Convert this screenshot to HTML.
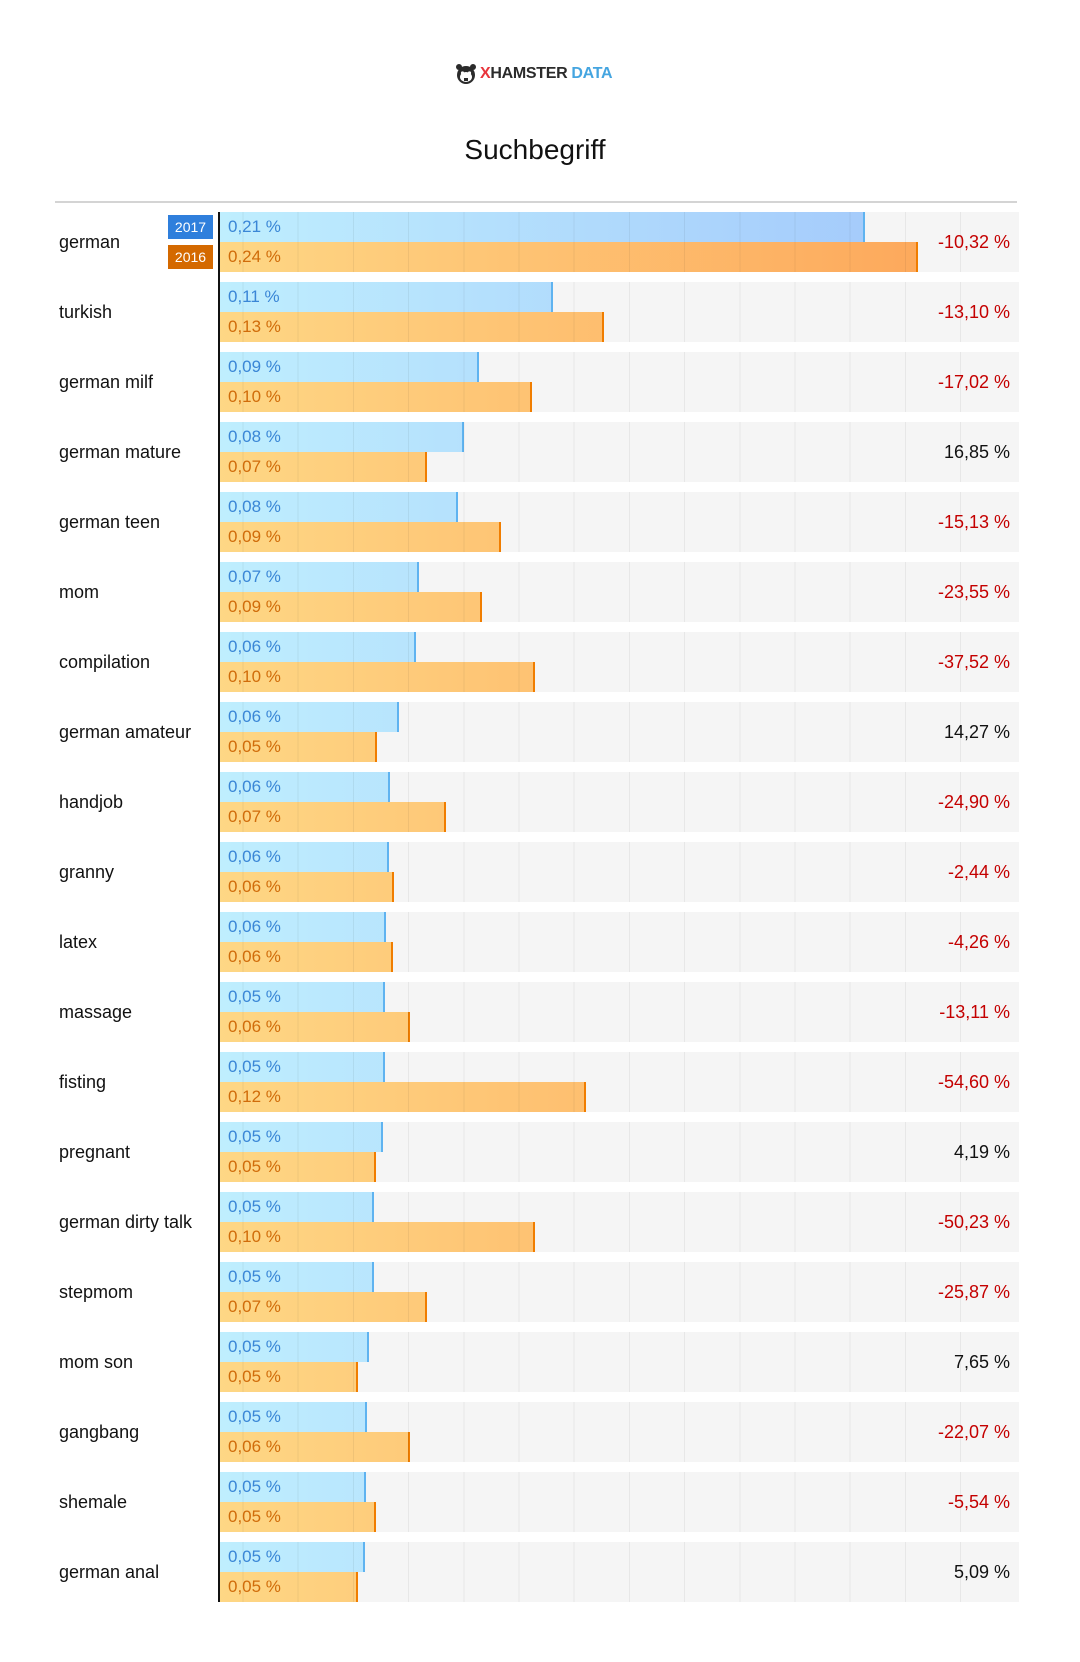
<!DOCTYPE html>
<html><head><meta charset="utf-8"><style>
body{margin:0;width:1080px;height:1662px;background:#fff;font-family:"Liberation Sans",sans-serif;position:relative;overflow:hidden}
.abs{position:absolute}
.logo{left:455px;top:63px;height:22px;display:flex;align-items:center;font-weight:bold;font-size:16px;letter-spacing:-0.3px}
.title{left:0;width:1070px;top:134px;text-align:center;font-size:28px;color:#111}
.hr{left:55px;width:962px;top:201px;height:2px;background:#d4d4d4}
.axis{left:218px;top:212px;width:2px;height:1390px;background:#111}
.row{position:absolute;left:219px;width:800px;height:60px;background:#f5f5f5}
.grid{position:absolute;left:0;top:0;width:780px;height:60px;background:repeating-linear-gradient(to right,transparent 0,transparent 23.5px,rgba(0,0,0,0.06) 23.5px,rgba(0,0,0,0.06) 24.5px,transparent 24.5px,transparent 55.2px);z-index:2}
.b{position:absolute;left:0;height:30px;box-sizing:border-box}
.b1{top:0;background:linear-gradient(to right,#bfeefe,#a3c9fb);background-size:700px 100%;border-right:2px solid #5fb3f0}
.b2{top:30px;background:linear-gradient(to right,#fed785,#fda95c);background-size:700px 100%;border-right:2px solid #f07d00}
.v{position:absolute;left:9px;font-size:17px;line-height:30px;z-index:3}
.v1{top:0;color:#3a86d6}.v2{top:30px;color:#d06c0a}
.lab{position:absolute;left:59px;font-size:18px;color:#111;line-height:60px}
.ch{position:absolute;right:70px;font-size:18px;line-height:60px;text-align:right}
.neg{color:#c40000}.pos{color:#111}
.leg{position:absolute;left:168px;width:45px;height:24px;color:#fff;font-size:14px;line-height:24px;text-align:center}
</style></head><body>
<div class="abs logo"><svg width="22" height="22" viewBox="0 0 22 22"><circle cx="11" cy="12" r="9" fill="#2b2b2b"/><circle cx="4" cy="4" r="3" fill="#2b2b2b"/><circle cx="18" cy="4" r="3" fill="#2b2b2b"/><ellipse cx="11" cy="14" rx="6" ry="5" fill="#fff"/><circle cx="7.5" cy="10" r="1.6" fill="#fff"/><circle cx="14.5" cy="10" r="1.6" fill="#fff"/><rect x="9" y="15" width="4" height="3" fill="#2b2b2b"/></svg><span style="color:#e8353c;margin-left:3px">X</span><span style="color:#2b2b2b">HAMSTER</span><span style="color:#45a5e0;margin-left:4px">DATA</span></div>
<div class="abs title">Suchbegriff</div>
<div class="abs hr"></div>
<div class="leg" style="top:215px;background:#2f7fdc">2017</div>
<div class="leg" style="top:245px;background:#d46900">2016</div>

<div class="row" style="top:212px"><div class="b b1" style="width:646px"></div><div class="b b2" style="width:699px"></div><div class="grid"></div><span class="v v1">0,21 %</span><span class="v v2">0,24 %</span></div>
<div class="row" style="top:282px"><div class="b b1" style="width:334px"></div><div class="b b2" style="width:385px"></div><div class="grid"></div><span class="v v1">0,11 %</span><span class="v v2">0,13 %</span></div>
<div class="row" style="top:352px"><div class="b b1" style="width:260px"></div><div class="b b2" style="width:313px"></div><div class="grid"></div><span class="v v1">0,09 %</span><span class="v v2">0,10 %</span></div>
<div class="row" style="top:422px"><div class="b b1" style="width:245px"></div><div class="b b2" style="width:208px"></div><div class="grid"></div><span class="v v1">0,08 %</span><span class="v v2">0,07 %</span></div>
<div class="row" style="top:492px"><div class="b b1" style="width:239px"></div><div class="b b2" style="width:282px"></div><div class="grid"></div><span class="v v1">0,08 %</span><span class="v v2">0,09 %</span></div>
<div class="row" style="top:562px"><div class="b b1" style="width:200px"></div><div class="b b2" style="width:263px"></div><div class="grid"></div><span class="v v1">0,07 %</span><span class="v v2">0,09 %</span></div>
<div class="row" style="top:632px"><div class="b b1" style="width:197px"></div><div class="b b2" style="width:316px"></div><div class="grid"></div><span class="v v1">0,06 %</span><span class="v v2">0,10 %</span></div>
<div class="row" style="top:702px"><div class="b b1" style="width:180px"></div><div class="b b2" style="width:158px"></div><div class="grid"></div><span class="v v1">0,06 %</span><span class="v v2">0,05 %</span></div>
<div class="row" style="top:772px"><div class="b b1" style="width:171px"></div><div class="b b2" style="width:227px"></div><div class="grid"></div><span class="v v1">0,06 %</span><span class="v v2">0,07 %</span></div>
<div class="row" style="top:842px"><div class="b b1" style="width:170px"></div><div class="b b2" style="width:175px"></div><div class="grid"></div><span class="v v1">0,06 %</span><span class="v v2">0,06 %</span></div>
<div class="row" style="top:912px"><div class="b b1" style="width:167px"></div><div class="b b2" style="width:174px"></div><div class="grid"></div><span class="v v1">0,06 %</span><span class="v v2">0,06 %</span></div>
<div class="row" style="top:982px"><div class="b b1" style="width:166px"></div><div class="b b2" style="width:191px"></div><div class="grid"></div><span class="v v1">0,05 %</span><span class="v v2">0,06 %</span></div>
<div class="row" style="top:1052px"><div class="b b1" style="width:166px"></div><div class="b b2" style="width:367px"></div><div class="grid"></div><span class="v v1">0,05 %</span><span class="v v2">0,12 %</span></div>
<div class="row" style="top:1122px"><div class="b b1" style="width:164px"></div><div class="b b2" style="width:157px"></div><div class="grid"></div><span class="v v1">0,05 %</span><span class="v v2">0,05 %</span></div>
<div class="row" style="top:1192px"><div class="b b1" style="width:155px"></div><div class="b b2" style="width:316px"></div><div class="grid"></div><span class="v v1">0,05 %</span><span class="v v2">0,10 %</span></div>
<div class="row" style="top:1262px"><div class="b b1" style="width:155px"></div><div class="b b2" style="width:208px"></div><div class="grid"></div><span class="v v1">0,05 %</span><span class="v v2">0,07 %</span></div>
<div class="row" style="top:1332px"><div class="b b1" style="width:150px"></div><div class="b b2" style="width:139px"></div><div class="grid"></div><span class="v v1">0,05 %</span><span class="v v2">0,05 %</span></div>
<div class="row" style="top:1402px"><div class="b b1" style="width:148px"></div><div class="b b2" style="width:191px"></div><div class="grid"></div><span class="v v1">0,05 %</span><span class="v v2">0,06 %</span></div>
<div class="row" style="top:1472px"><div class="b b1" style="width:147px"></div><div class="b b2" style="width:157px"></div><div class="grid"></div><span class="v v1">0,05 %</span><span class="v v2">0,05 %</span></div>
<div class="row" style="top:1542px"><div class="b b1" style="width:146px"></div><div class="b b2" style="width:139px"></div><div class="grid"></div><span class="v v1">0,05 %</span><span class="v v2">0,05 %</span></div>

<div class="lab" style="top:212px">german</div><div class="ch neg" style="top:212px">-10,32 %</div>
<div class="lab" style="top:282px">turkish</div><div class="ch neg" style="top:282px">-13,10 %</div>
<div class="lab" style="top:352px">german milf</div><div class="ch neg" style="top:352px">-17,02 %</div>
<div class="lab" style="top:422px">german mature</div><div class="ch pos" style="top:422px">16,85 %</div>
<div class="lab" style="top:492px">german teen</div><div class="ch neg" style="top:492px">-15,13 %</div>
<div class="lab" style="top:562px">mom</div><div class="ch neg" style="top:562px">-23,55 %</div>
<div class="lab" style="top:632px">compilation</div><div class="ch neg" style="top:632px">-37,52 %</div>
<div class="lab" style="top:702px">german amateur</div><div class="ch pos" style="top:702px">14,27 %</div>
<div class="lab" style="top:772px">handjob</div><div class="ch neg" style="top:772px">-24,90 %</div>
<div class="lab" style="top:842px">granny</div><div class="ch neg" style="top:842px">-2,44 %</div>
<div class="lab" style="top:912px">latex</div><div class="ch neg" style="top:912px">-4,26 %</div>
<div class="lab" style="top:982px">massage</div><div class="ch neg" style="top:982px">-13,11 %</div>
<div class="lab" style="top:1052px">fisting</div><div class="ch neg" style="top:1052px">-54,60 %</div>
<div class="lab" style="top:1122px">pregnant</div><div class="ch pos" style="top:1122px">4,19 %</div>
<div class="lab" style="top:1192px">german dirty talk</div><div class="ch neg" style="top:1192px">-50,23 %</div>
<div class="lab" style="top:1262px">stepmom</div><div class="ch neg" style="top:1262px">-25,87 %</div>
<div class="lab" style="top:1332px">mom son</div><div class="ch pos" style="top:1332px">7,65 %</div>
<div class="lab" style="top:1402px">gangbang</div><div class="ch neg" style="top:1402px">-22,07 %</div>
<div class="lab" style="top:1472px">shemale</div><div class="ch neg" style="top:1472px">-5,54 %</div>
<div class="lab" style="top:1542px">german anal</div><div class="ch pos" style="top:1542px">5,09 %</div>
<div class="abs axis"></div>
</body></html>
